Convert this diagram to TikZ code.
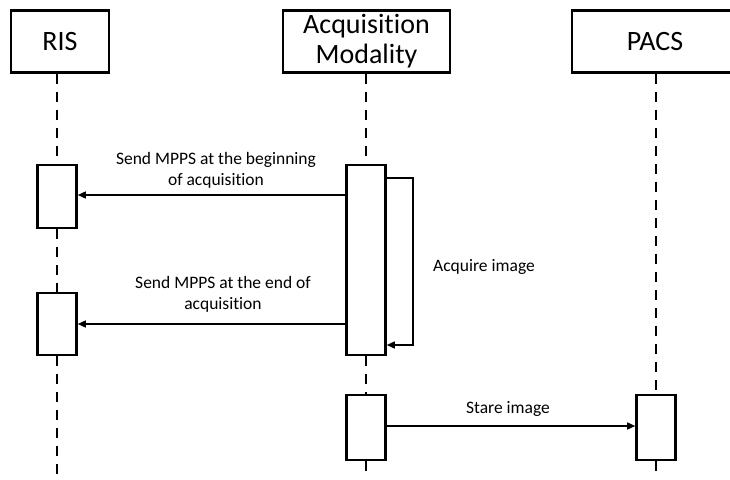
\documentclass[tikz,border=0pt]{standalone}
\usepackage{fontspec}
\setmainfont{Carlito}[Ligatures={NoCommon}]
\usetikzlibrary{arrows.meta}
\begin{document}
\begin{tikzpicture}[x=1pt,y=-1pt,
  head/.style={draw,line width=2.6pt,fill=white,inner sep=0pt,align=center,
    font=\fontsize{28}{30}\selectfont},
  act/.style={draw,line width=2.6pt,fill=white,inner sep=0pt,minimum width=39pt},
  life/.style={line width=1.4pt,dash pattern=on 10pt off 8pt},
  msg/.style={line width=1.5pt,-{Triangle[length=8pt,width=7pt]}},
  lbl/.style={font=\fontsize{17.5}{21}\selectfont,align=center,inner sep=0pt}]
\clip (0,0) rectangle (730,479);
\fill[white] (0,0) rectangle (730,479);
% headers
\node[head,minimum width=98pt,minimum height=62pt] (ris) at (60,41.5) {RIS};
\node[head,minimum width=167pt,minimum height=62pt] (mod) at (366.5,41.5) {Acquisition\\Modality};
\node[head,minimum width=166pt,minimum height=62pt] (pacs) at (655,41.5) {PACS};
% activation boxes
\node[act,minimum height=63pt] (r1) at (57,196.5) {};
\node[act,minimum height=62pt] (r2) at (57,324) {};
\node[act,minimum height=190pt] (m1) at (366,260) {};
\node[act,minimum height=65pt] (m2) at (366,427.5) {};
\node[act,minimum height=65pt] (p1) at (656,427.5) {};
\coordinate (risend) at (57,479);
\coordinate (modend) at (366,479);
\coordinate (pacsend) at (656,479);
% lifelines
\draw[life] (r1.north |- ris.south) -- (r1.north);
\draw[life] (r1.south) -- (r2.north);
\draw[life] (r2.south) -- (risend);
\draw[life] (m1.north |- mod.south) -- (m1.north);
\draw[life] (m1.south) -- (m2.north);
\draw[life] (m2.south) -- (modend);
\draw[life] (p1.north |- pacs.south) -- (p1.north);
\draw[life] (p1.south) -- (pacsend);
% messages
\draw[msg] (m1.west |- 0,195) -- (r1.east |- 0,195);
\node[lbl] (t1) at (216,170) {Send MPPS at the beginning\\of acquisition};
\draw[msg] (m1.west |- 0,324) -- (r2.east |- 0,324);
\node[lbl] (t2) at (223,294) {Send MPPS at the end of\\acquisition};
\draw[msg] (m1.east |- 0,178) -- (413,178) -- (413,345) -- (m1.east |- 0,345);
\node[lbl] (t3) at (484,267) {Acquire image};
\draw[msg] (m2.east |- 0,426) -- (p1.west |- 0,426);
\node[lbl] (t4) at (508,409) {Stare image};
\end{tikzpicture}
\end{document}
